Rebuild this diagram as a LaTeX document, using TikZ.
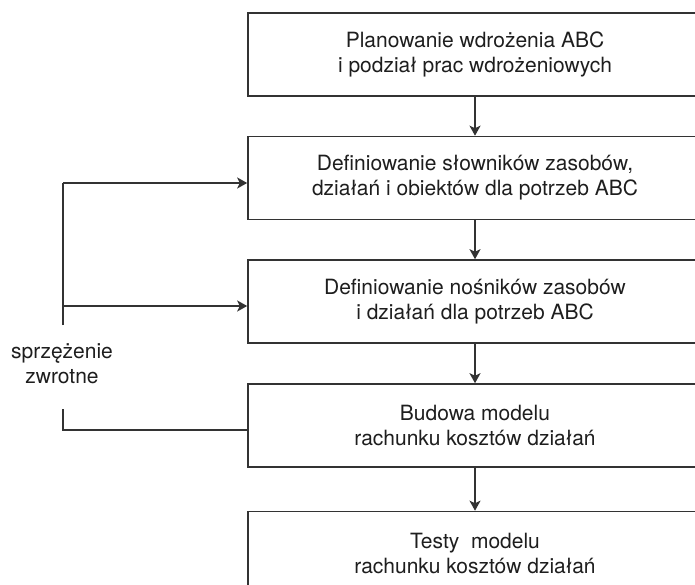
\documentclass[tikz,border=0pt]{standalone}
\usepackage{fontspec}
\setmainfont{TeX Gyre Heros}
\usetikzlibrary{arrows.meta,calc}
\definecolor{linegray}{HTML}{333333}
\definecolor{textgray}{HTML}{1E1E1E}
\tikzset{
  stagebox/.style={draw=linegray, line width=1.6pt, minimum width=454pt,
    minimum height=83pt, align=center, inner sep=0pt,
    font=\fontsize{21}{25}\selectfont, text=textgray},
  flow/.style={draw=linegray, line width=1.6pt,
    -{Stealth[length=10pt,width=11pt,inset=2.5pt]}},
  plain/.style={draw=linegray, line width=1.6pt},
  note/.style={align=center, inner sep=0pt,
    font=\fontsize{21}{25}\selectfont, text=textgray}
}
\begin{document}
\begin{tikzpicture}[x=1pt,y=-1pt]
  \clip (0,0) rectangle (695,585);
  \fill[white] (0,0) rectangle (695,585);

  % process stages
  \node[stagebox] (b1) at (475,54.5) {Planowanie wdrożenia ABC\\i podział prac wdrożeniowych};
  \node[stagebox] (b2) at (475,178) {Definiowanie słowników zasobów,\\działań i obiektów dla potrzeb ABC};
  \node[stagebox] (b3) at (475,301.5) {Definiowanie nośników zasobów\\i działań dla potrzeb ABC};
  \node[stagebox] (b4) at (475,425.5) {Budowa modelu\\rachunku kosztów działań};
  \node[stagebox] (b5) at (475,553) {Testy\ \ modelu\\rachunku kosztów działań};

  % main flow
  \draw[flow] (b1.south) -- (b2.north);
  \draw[flow] (b2.south) -- (b3.north);
  \draw[flow] (b3.south) -- (b4.north);
  \draw[flow] (b4.south) -- (b5.north);

  % feedback loop
  \node[note] (fb) at (62,364) {sprzężenie\\zwrotne};
  \coordinate (fbtop) at (63,183);
  \coordinate (fbmid) at (63,306);
  \coordinate (fbup) at (63,325);
  \coordinate (fblow) at (63,409);
  \coordinate (fbbase) at (63,430);

  \draw[plain] ($(b4.west)+(0,4.5)$) -- (fbbase) -- (fblow);
  \draw[plain] (fbup) -- (fbtop);
  \draw[flow] (fbtop) -- (fbtop -| b2.west);
  \draw[flow] (fbmid) -- (fbmid -| b3.west);
\end{tikzpicture}
\end{document}
